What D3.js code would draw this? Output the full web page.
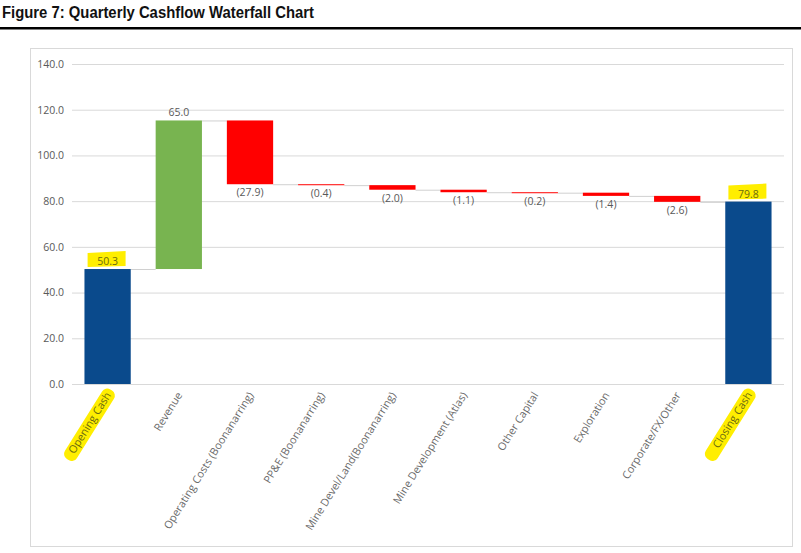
<!DOCTYPE html>
<html lang="en">
<head>
  <meta charset="UTF-8">
  <script src="https://d3js.org/d3.v7.min.js" charset="utf-8"></script>
  <title>Quarterly Cashflow Waterfall Chart</title>
  <style>
    body { margin: 0; background: #fff; }
    text { font-family: "Open Sans", "Liberation Sans", sans-serif; }
  </style>
</head>
<body>
  <div class="demo"></div>
  <script>
    const categories = ['Opening Cash', 'Revenue', 'Operating Costs (Boonanarring)', 'PP&E (Boonanarring)',
      'Mine Devel/Land(Boonanarring)', 'Mine Development (Atlas)', 'Other Capital', 'Exploration',
      'Corporate/FX/Other', 'Closing Cash'];
    const values = [50.3, 65.0, -27.9, -0.4, -2.0, -1.1, -0.2, -1.4, -2.6, 79.8];
    const kinds = ['total', 'up', 'down', 'down', 'down', 'down', 'down', 'down', 'down', 'total'];
    const yTicks = [0, 20, 40, 60, 80, 100, 120, 140];
    const highlighted = ['Opening Cash', 'Closing Cash'];

    const colors = { total: '#0A4A8C', up: '#78B450', down: '#FF0000' };
    const yellow = '#FFEE00';

    // running totals for the floating bars
    let run = 0;
    const bars = categories.map((c, i) => {
      let lo, hi;
      if (kinds[i] === 'total') { lo = 0; hi = values[i]; run = values[i]; }
      else { const start = run; run += values[i]; lo = Math.min(start, run); hi = Math.max(start, run); }
      return { cat: c, value: values[i], kind: kinds[i], lo, hi, end: kinds[i] === 'total' ? values[i] : run };
    });

    const svg = d3.select('.demo').append('svg').attr('width', 801).attr('height', 553);

    // title + rule
    svg.append('text').attr('x', 2).attr('y', 18)
      .attr('textLength', 312).attr('lengthAdjust', 'spacingAndGlyphs')
      .style('font-family', '"Liberation Sans", sans-serif')
      .style('font-weight', 'bold').style('font-size', '16px').style('fill', '#111')
      .text('Figure 7: Quarterly Cashflow Waterfall Chart');
    svg.append('rect').attr('x', 0).attr('y', 27).attr('width', 801).attr('height', 2.5).attr('fill', '#000');

    // chart frame
    svg.append('rect').attr('x', 30.5).attr('y', 48.5).attr('width', 762).attr('height', 498)
      .attr('fill', 'none').attr('stroke', '#d9d9d9');

    const x = d3.scaleBand().domain(categories).range([72, 784]).paddingInner(0.35).paddingOuter(0.175);
    const y = d3.scaleLinear().domain([0, 140]).range([384, 64]);

    // gridlines
    svg.append('g').selectAll('line').data(yTicks).join('line')
      .attr('x1', 72).attr('x2', 784)
      .attr('y1', d => y(d) + 0.5).attr('y2', d => y(d) + 0.5)
      .attr('stroke', '#d9d9d9').attr('stroke-width', 1);

    // y axis labels
    const yAxis = svg.append('g').attr('transform', 'translate(72,0)')
      .call(d3.axisLeft(y).tickValues(yTicks).tickFormat(d3.format('.1f')).tickSize(0).tickPadding(8));
    yAxis.select('.domain').remove();
    yAxis.selectAll('text').style('font-size', '10.5px').style('fill', '#595959').style('font-family', '"Open Sans", sans-serif');

    // connectors
    svg.append('g').selectAll('line').data(bars.slice(0, -1)).join('line')
      .attr('x1', d => x(d.cat) + x.bandwidth())
      .attr('x2', (d, i) => x(categories[i + 1]))
      .attr('y1', d => y(d.end) + 0.5).attr('y2', d => y(d.end) + 0.5)
      .attr('stroke', '#d0d0d0').attr('stroke-width', 1);

    // bars
    svg.append('g').selectAll('rect').data(bars).join('rect')
      .attr('x', d => x(d.cat))
      .attr('width', x.bandwidth())
      .attr('y', d => y(d.hi))
      .attr('height', d => Math.max(1, y(d.lo) - y(d.hi)))
      .attr('fill', d => colors[d.kind]);

    // value label highlights
    bars.filter(d => d.kind === 'total').forEach(d => {
      const cx = x(d.cat) + x.bandwidth() / 2;
      svg.append('path')
        .attr('d', `M${cx - 20},${y(d.hi) - 16} L${cx + 18},${y(d.hi) - 18} L${cx + 18},${y(d.hi) - 3} L${cx - 20},${y(d.hi) - 2} Z`)
        .attr('fill', yellow);
    });

    // value labels
    const fmt = d3.format('.1f');
    svg.append('g').selectAll('text').data(bars).join('text')
      .attr('x', d => x(d.cat) + x.bandwidth() / 2)
      .attr('y', d => d.value >= 0 ? y(d.hi) - 4 : y(d.lo) + 12)
      .attr('text-anchor', 'middle')
      .style('font-size', '10.5px')
      .style('fill', d => d.kind === 'total' ? '#6b6b10' : '#595959')
      .text(d => d.value >= 0 ? fmt(d.value) : `(${fmt(-d.value)})`);

    // category labels
    const angle = -58;
    const catG = svg.append('g').selectAll('g').data(categories).join('g')
      .attr('transform', d => `translate(${x(d) + x.bandwidth() / 2 + 4},${395}) rotate(${angle})`);
    catG.filter(d => highlighted.includes(d)).append('rect')
      .attr('x', d => -d.length * 6 - 6).attr('y', -10).attr('height', 14)
      .attr('width', d => d.length * 6 + 10).attr('rx', 6)
      .attr('fill', yellow);
    catG.append('text')
      .attr('text-anchor', 'end').attr('x', 0).attr('y', 0)
      .style('font-size', '10.8px')
      .style('fill', d => highlighted.includes(d) ? '#6b6b10' : '#6a6a6a')
      .text(d => d);
  </script>
</body>
</html>
